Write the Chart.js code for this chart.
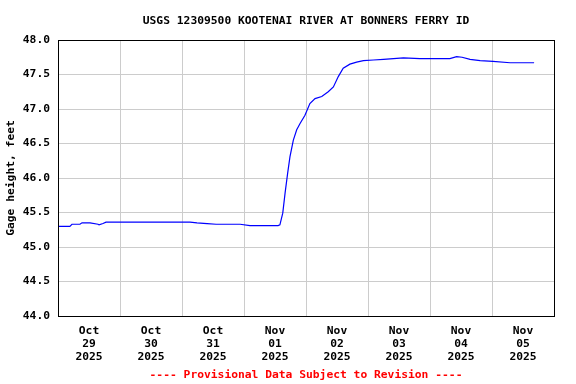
<!DOCTYPE html>
<html>
<head>
<meta charset="utf-8">
<title>USGS 12309500 Kootenai River</title>
<script src="https://cdn.jsdelivr.net/npm/chart.js@4.4.1/dist/chart.umd.min.js"></script>
<style>
  body { margin: 0; background: #ffffff; }
</style>
</head>
<body>
<canvas id="mycanvas" width="576" height="384"></canvas>
<script>
// hours since Oct 29 2025 00:00
var hours = [0, 4.6, 5.4, 8.5, 9.3, 12.4, 15.5, 15.9, 17.4, 18.6, 24, 31.7, 39.5, 51.1, 53.8, 57.7,
             61.2, 70.5, 74.3, 82.1, 85.2, 85.9, 87.0, 87.9, 88.9, 89.8, 91.1, 92.4, 93.7, 95.6,
             97.5, 99.5, 102.1, 104.6, 106.6, 108.5, 110.4, 113.0, 115.6, 118.2, 122.1, 126.0,
             133.7, 140.1, 147.9, 151.7, 154.3, 156.4, 159.5, 163.4, 168.4, 175.0, 184.3];
var gage = [45.30, 45.30, 45.33, 45.33, 45.35, 45.35, 45.33, 45.32, 45.34, 45.36, 45.36, 45.36, 45.36, 45.36, 45.35, 45.34,
            45.33, 45.33, 45.31, 45.31, 45.31, 45.32, 45.49, 45.78, 46.07, 46.31, 46.55, 46.70, 46.79, 46.91,
            47.08, 47.15, 47.18, 47.25, 47.32, 47.47, 47.59, 47.65, 47.68, 47.70, 47.71, 47.72,
            47.74, 47.73, 47.73, 47.73, 47.76, 47.75, 47.72, 47.70, 47.69, 47.67, 47.67];

var dayMonth = ["Oct", "Oct", "Oct", "Nov", "Nov", "Nov", "Nov", "Nov"];
var dayNum = ["29", "30", "31", "01", "02", "03", "04", "05"];
var dayYear = ["2025", "2025", "2025", "2025", "2025", "2025", "2025", "2025"];

var titleText = "USGS 12309500 KOOTENAI RIVER AT BONNERS FERRY ID";
var footText = "---- Provisional Data Subject to Revision ----";
var monoFont = '"DejaVu Sans Mono", "Liberation Mono", monospace';

var points = [];
for (var i in hours) {
    points.push({x: hours[i], y: gage[i]});
}

// title, footer and black frame round the plot
var framePlugin = {
    id: "frame",
    afterDraw: function (chart) {
        var c = chart.ctx;
        var a = chart.chartArea;
        var mid = (a.left + a.right) / 2;
        c.save();
        c.strokeStyle = "#000000";
        c.lineWidth = 1;
        c.strokeRect(Math.round(a.left) + 0.5, Math.round(a.top) + 0.5,
                     Math.round(a.right - a.left), Math.round(a.bottom - a.top));
        c.textAlign = "center";
        c.textBaseline = "alphabetic";
        c.font = "bold 11.3px " + monoFont;
        c.fillStyle = "#000000";
        c.fillText(titleText, mid, 24);
        c.fillStyle = "#ff0000";
        c.fillText(footText, mid, 378);
        c.restore();
    }
};

var ctx = document.getElementById("mycanvas");
var myNewChart = new Chart(ctx, {
    type: "line",
    data: {
        datasets: [{
            label: "Gage height",
            data: points,
            borderColor: "#0000ff",
            borderWidth: 1.2,
            pointRadius: 0,
            fill: false,
            tension: 0
        }]
    },
    options: {
        responsive: false,
        animation: false,
        devicePixelRatio: 1,
        layout: { padding: { left: 0, right: 22, top: 40, bottom: 0 } },
        plugins: {
            legend: { display: false },
            tooltip: { enabled: false }
        },
        scales: {
            x: {
                type: "linear",
                min: 0,
                max: 192,
                afterFit: function (s) { s.height = 68; },
                border: { display: false },
                grid: {
                    drawTicks: false,
                    lineWidth: 1,
                    color: function (c) {
                        return (c.tick && c.tick.value % 24 === 0) ? "#cccccc" : "rgba(0,0,0,0)";
                    }
                },
                ticks: {
                    stepSize: 12,
                    autoSkip: false,
                    maxRotation: 0,
                    padding: 9,
                    color: "#000000",
                    font: { family: monoFont, size: 11.3, weight: "bold", lineHeight: "13px" },
                    callback: function (v) {
                        if (v % 24 !== 12) return "";
                        var d = Math.floor(v / 24);
                        return [dayMonth[d], dayNum[d], dayYear[d]];
                    }
                }
            },
            y: {
                min: 44,
                max: 48,
                afterFit: function (s) { s.width = 58; },
                border: { display: false },
                grid: { drawTicks: false, color: "#cccccc", lineWidth: 1 },
                ticks: {
                    stepSize: 0.5,
                    padding: 8,
                    color: "#000000",
                    font: { family: monoFont, size: 11.3, weight: "bold" },
                    callback: function (v) { return v.toFixed(1); }
                },
                title: {
                    display: true,
                    text: "Gage height, feet",
                    color: "#000000",
                    padding: { top: 4, bottom: 0 },
                    font: { family: monoFont, size: 11.3, weight: "bold" }
                }
            }
        }
    },
    plugins: [framePlugin]
});
</script>
</body>
</html>
